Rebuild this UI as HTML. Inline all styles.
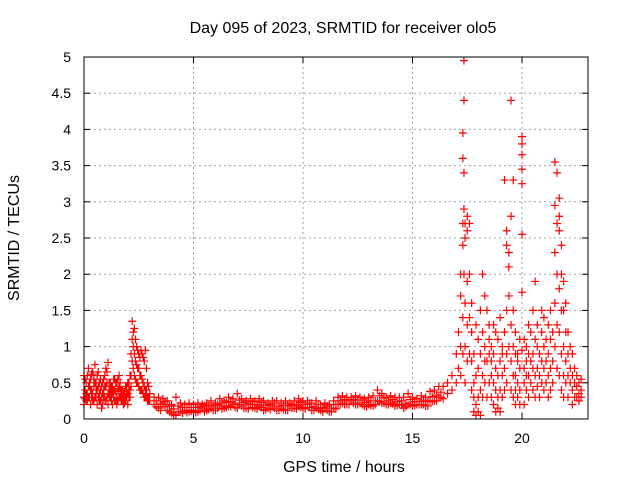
<!DOCTYPE html>
<html><head><meta charset="utf-8"><style>
html,body{margin:0;padding:0;background:#fff;}
svg{display:block;font-family:"Liberation Sans",Arial,sans-serif;font-size:14px;}
.big{font-size:16px;}
</style></head><body>
<svg id="chart" width="640" height="480" viewBox="0 0 640 480" xmlns="http://www.w3.org/2000/svg">
<rect width="640" height="480" fill="#fff"/>
<text class="big" x="343" y="33" text-anchor="middle">Day 095 of 2023, SRMTID for receiver olo5</text>
<text class="big" transform="translate(19,238) rotate(-90)" text-anchor="middle">SRMTID / TECUs</text>
<text class="big" x="344" y="472" text-anchor="middle">GPS time / hours</text>
<g id="grid"></g>
<g id="ticks"></g>
<g id="marks"></g>
<rect x="84" y="57" width="504" height="362" fill="none" stroke="#000" stroke-width="1"/>
</svg>
<script>
const xTicks=[0,5,10,15,20];
const yTicks=[0,0.5,1,1.5,2,2.5,3,3.5,4,4.5,5];
const yTickLabels=["0","0.5","1","1.5","2","2.5","3","3.5","4","4.5","5"];
const sampleHours=[0,0.1,0.2,0.3,0.4,0.5,0.6,0.7,0.8,0.9,1.0,1.1,1.2,1.3,1.4,1.5,1.6,1.7,1.8,1.9,2.0,2.1,2.2,2.3,2.4,2.5,2.6,2.7,2.8,2.9,3.0,
3.2,3.4,3.6,3.8,4.0,4.2,4.4,4.6,4.8,5.0,5.2,5.4,5.6,5.8,6.0,6.2,6.4,6.6,6.8,7.0,7.2,7.4,7.6,7.8,8.0,8.2,8.4,8.6,8.8,9.0,9.2,9.4,9.6,9.8,10.0,10.2,10.4,10.6,10.8,11.0,11.2,11.4,11.6,11.8,12.0,12.2,12.4,12.6,12.8,13.0,13.2,13.4,13.6,13.8,14.0,14.2,14.4,14.6,14.8,15.0,15.2,15.4,15.6,15.8,16.0,16.2,16.4,
3.3,3.5,3.7,3.9,4.1,4.3,4.5,4.7,4.9,5.1,5.3,5.5,5.7,5.9,6.1,6.3,6.5,6.7,6.9,7.1,7.3,7.5,7.7,7.9,8.1,8.3,8.5,8.7,8.9,9.1,9.3,9.5,9.7,9.9,10.1,10.3,10.5,10.7,10.9,11.1,11.3,11.5,11.7,11.9,12.1,12.3,12.5,12.7,12.9,13.1,13.3,13.5,13.7,13.9,14.1,14.3,14.5,14.7,14.9,15.1,15.3,15.5,15.7,15.9,16.1,16.3,
0.05,0.15,0.25,0.35,0.45,0.55,0.65,0.75,0.85,0.95,1.05,1.15,1.25,1.35,1.45,1.55,1.65,1.75,1.85,1.95,2.05,2.15,2.25,2.35,2.45,2.55,2.65,2.75,2.85,2.95,
16.6,16.8,17.0,17.1,17.2,17.3,17.35,17.4,17.5,17.6,17.7,17.8,17.9,18.0,18.1,18.2,18.3,18.4,18.5,18.6,18.7,18.8,18.9,19.0,19.1,19.2,19.3,19.4,19.5,19.6,19.7,19.8,19.9,20.0,20.1,20.2,20.3,20.4,20.5,20.6,20.7,20.8,20.9,21.0,21.1,21.2,21.3,21.4,21.5,21.6,21.7,21.8,21.9,22.0,22.1,22.2,22.3,22.4,22.5,22.6,22.7];
const sampleTecu=[[0.6,0.3,0.2],[0.5,0.25,0.35],[0.45,0.3,0.7],[0.55,0.2,0.4],[0.65,0.35,0.25],[0.75,0.3,0.5],[0.6,0.2,0.4],[0.5,0.25,0.35],[0.45,0.15,0.3],[0.55,0.3,0.4],[0.7,0.25,0.45],[0.78,0.35,0.2],[0.5,0.3,0.4],[0.45,0.2,0.35],[0.55,0.25,0.4],[0.5,0.2,0.3],[0.6,0.3,0.45],[0.4,0.25,0.35],[0.35,0.2,0.3],[0.45,0.3,0.25],[0.5,0.35,0.2],[0.6,0.3,0.4],[1.35,1.1,0.8],[1.25,0.9,0.6],[1.0,0.75,0.5],[0.9,0.7,0.45],[0.95,0.6,0.4],[0.85,0.5,0.35],[0.95,0.4,0.3],[0.5,0.3,0.25],[0.35,0.25,0.3],
[.2,.3],[.15,.3],[.2,.28],[.12,.25],[.08,.2],[.05,.3],[.1,.22],[.12,.2],[.1,.22],[.12,.2],[.1,.22],[.15,.2],[.12,.22],[.15,.25],[.12,.22],[.18,.28],[.15,.25],[.18,.3],[.2,.28],[.15,.35],[.18,.28],[.15,.25],[.2,.28],[.15,.25],[.18,.28],[.12,.25],[.15,.22],[.18,.25],[.12,.25],[.15,.22],[.12,.25],[.18,.22],[.15,.25],[.18,.28],[.15,.25],[.2,.25],[.12,.22],[.15,.25],[.12,.2],[.15,.22],[.1,.2],[.15,.25],[.2,.3],[.22,.32],[.2,.3],[.25,.3],[.2,.32],[.22,.3],[.18,.28],[.2,.3],[.18,.32],[.25,.4],[.22,.35],[.2,.3],[.22,.32],[.18,.3],[.2,.3],[.15,.3],[.2,.35],[.18,.3],[.2,.28],[.2,.32],[.18,.3],[.25,.38],[.25,.4],[.3,.45],[.28,.45],
[.25,.17],[.22,.12],[.24,.17],[.18,.1],[.14,.06],[.18,.1],[.16,.08],[.16,.09],[.16,.11],[.16,.09],[.17,.12],[.18,.1],[.19,.13],[.18,.12],[.2,.15],[.22,.14],[.23,.16],[.24,.17],[.22,.16],[.26,.2],[.23,.15],[.21,.14],[.24,.16],[.2,.14],[.23,.16],[.19,.13],[.2,.13],[.22,.15],[.18,.12],[.19,.13],[.19,.12],[.2,.15],[.2,.14],[.23,.16],[.2,.14],[.22,.16],[.17,.12],[.2,.14],[.16,.1],[.18,.12],[.15,.1],[.2,.14],[.25,.2],[.27,.2],[.25,.2],[.27,.22],[.26,.2],[.26,.2],[.23,.17],[.25,.19],[.25,.2],[.32,.24],[.29,.22],[.25,.2],[.27,.21],[.24,.19],[.25,.19],[.22,.17],[.27,.2],[.24,.19],[.24,.2],[.26,.2],[.24,.18],[.31,.24],[.33,.25],[.37,.3],
[.55,.28,.4],[.6,.25,.35],[.5,.3,.45],[.62,.3,.4],[.55,.25,.45],[.5,.3,.4],[.65,.3,.45],[.55,.25,.4],[.5,.22,.35],[.6,.3,.45],[.65,.3,.5],[.5,.3,.4],[.45,.25,.35],[.55,.3,.4],[.5,.25,.38],[.55,.25,.4],[.5,.3,.42],[.4,.25,.32],[.38,.22,.3],[.45,.3,.35],[.5,.3,.4],[.9,.6,.45],[1.2,1.0,.7],[1.1,.8,.55],[.95,.7,.5],[.85,.6,.4],[.9,.55,.4],[.8,.45,.3],[.7,.4,.3],[.45,.3,.25],
[.35,.5],[.4,.6],[.5,.9],[.7,1.2],[1.0,1.7,2.0,.6],[2.4,2.7,3.6,3.95,1.4,.9],[4.95,4.4,3.4,2.9,2.0],[2.5,2.7,1.6,1.0,.5],[2.6,2.8,1.9,1.3,.8],[2.7,2.0,1.4,.9],[1.6,1.2,.8,.4],[.5,.3,.1,.9],[.2,.05,.6,1.3],[.1,.3,.7,1.1],[.4,.9,1.5,.05],[1.2,.6,2.0,.3],[1.7,1.0,.5,.8],[1.5,.8,.3],[1.3,.9,.5,1.1],[.8,.3,.6,1.0],[.5,.2,.9,1.3],[.4,.7,1.2,.1],[1.1,.6,.3,.15],[.8,.4,1.4,.1],[1.0,.6,.9,.3],[3.3,1.2,.7,.4],[2.6,2.4,1.5,.9,.5],[2.3,2.1,1.7,1.0],[4.4,2.8,1.3,.8,.4],[3.3,1.0,.6,.3,1.5],[1.2,.9,.6,.2,.4],[.8,.5,.3,.9],[1.1,.7,.4,.2],[3.9,3.8,3.65,3.45,3.25,2.55,1.75,.95],[1.1,.7,.5,.2],[.8,.4,.6,1.0],[.9,.6,.3,1.3],[1.2,.8,.5],[1.5,.9,.7,.4],[1.1,.6,.3,1.9],[1.3,1.0,.7,.45],[.9,.6,.3],[1.2,.8,.5,1.5],[1.4,1.0,.7,.4],[1.1,.8,.5],[1.3,.9,.6,.3],[1.5,1.1,.7,.4],[1.2,.8,.5],[3.55,2.95,2.3,1.6,1.0],[3.4,2.7,2.0,1.3,.7],[3.05,2.8,2.6,1.8,1.2,.6],[2.4,2.0,1.5,.9,.4],[1.9,1.5,1.0,.6,.3],[1.6,1.2,.8,.5],[1.2,.9,.6,.3],[1.0,.7,.5],[.9,.6,.4,.2],[.7,.5,.3],[.6,.45,.3],[.5,.35,.25],[.55,.4,.3]];

const NS="http://www.w3.org/2000/svg";
const X0=84,X1=588,Y0=419,Y1=57,PXH=21.9,YMAX=5;
function xs(h){return X0+h*PXH;}
function ys(v){return Y0-(v/YMAX)*(Y0-Y1);}
function mk(tag,attrs,parent){const e=document.createElementNS(NS,tag);for(const k in attrs)e.setAttribute(k,attrs[k]);parent.appendChild(e);return e;}
const grid=document.getElementById('grid'),ticks=document.getElementById('ticks'),marks=document.getElementById('marks');
yTicks.forEach((v,i)=>{
  const y=ys(v);
  if(i>0&&i<yTicks.length-1){const g=mk('line',{x1:X0,x2:X1,y1:y,y2:y,stroke:'#a0a0a0','stroke-dasharray':'2,3'},grid);
    
    }
  mk('line',{x1:X0,x2:X0+6,y1:y,y2:y,stroke:'#000'},ticks);
  mk('line',{x1:X1,x2:X1-6,y1:y,y2:y,stroke:'#000'},ticks);
  const t=mk('text',{x:71,y:y+5,'text-anchor':'end'},ticks);t.textContent=yTickLabels[i];
  
  
});
xTicks.forEach(h=>{
  const x=xs(h);
  if(h>0){const g=mk('line',{x1:x,x2:x,y1:Y0,y2:Y1,stroke:'#a0a0a0','stroke-dasharray':'2,3'},grid);
    
    }
  mk('line',{x1:x,x2:x,y1:Y0,y2:Y0-6,stroke:'#000'},ticks);
  mk('line',{x1:x,x2:x,y1:Y1,y2:Y1+6,stroke:'#000'},ticks);
  const t=mk('text',{x:x,y:443,'text-anchor':'middle'},ticks);t.textContent=String(h);
  
  
});
let d='';
sampleHours.forEach((h,i)=>{
  const x=xs(h);
  sampleTecu[i].forEach(v=>{const y=ys(v);d+=`M${x-4},${y}h8M${x},${y-4}v8`;});
});
const p=mk('path',{d:d,stroke:'#ff0000','stroke-width':1.2,fill:'none'},marks);


</script>
</body></html>
